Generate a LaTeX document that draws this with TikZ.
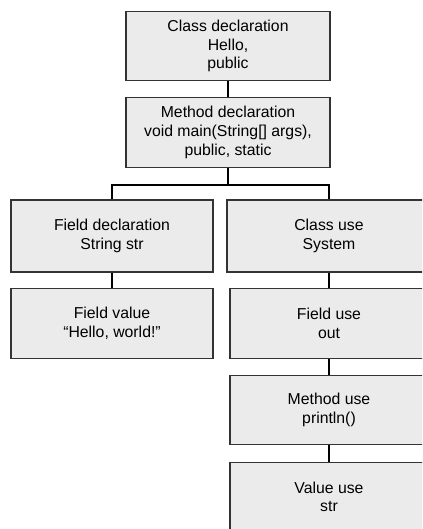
\documentclass[tikz,border=0pt]{standalone}
\usepackage{fontspec}
\setmainfont{Liberation Sans}
\usepackage{tikz}
\usetikzlibrary{positioning}

\begin{document}
\begin{tikzpicture}[x=0.75pt, y=-0.75pt,
  every node/.style={font=\fontsize{11.85}{14}\selectfont},
  treebox/.style={draw=black!80, line width=0.9pt, fill=black!8, align=center,
    inner sep=0pt, minimum width=153pt, minimum height=52pt},
  link/.style={black, line width=0.8pt}
]

% Page and clipping
\useasboundingbox (0,0) rectangle (422,529);
\clip (0,0) rectangle (422,529);

% Declarations
\node[treebox] (clsdecl) at (228,46) {Class declaration\\Hello,\\public};
\node[treebox, minimum height=53pt] (mdecl) at (228,132.5)
  {Method declaration\\void main(String[] args),\\public, static};

% Left branch
\node[treebox, minimum width=151.5pt, minimum height=54pt] (fdecl) at (112,236)
  {Field declaration\\String str};
\node[treebox, minimum width=151.5pt] (fval) at (112,323.5)
  {Field value\\``Hello, world!''};

% Right branch
\node[treebox, minimum height=54pt] (cuse) at (329,236) {Class use\\System};
\node[treebox, minimum width=148.5pt] (fuse) at (329,323.5) {Field use\\out};
\node[treebox, minimum width=148.5pt] (muse) at (329,410) {Method use\\println()};
\node[treebox, minimum width=148.5pt] (vuse) at (329,497) {Value use\\str};

% Connectors
\coordinate (fork) at (228,185);
\draw[link] (clsdecl) -- (mdecl);
\draw[link] (mdecl) -- (fork);
\draw[link] (fdecl.north) |- (fork) -| (cuse.north);
\draw[link] (fdecl) -- (fval);
\draw[link] (cuse) -- (fuse);
\draw[link] (fuse) -- (muse);
\draw[link] (muse) -- (vuse);

\end{tikzpicture}
\end{document}
